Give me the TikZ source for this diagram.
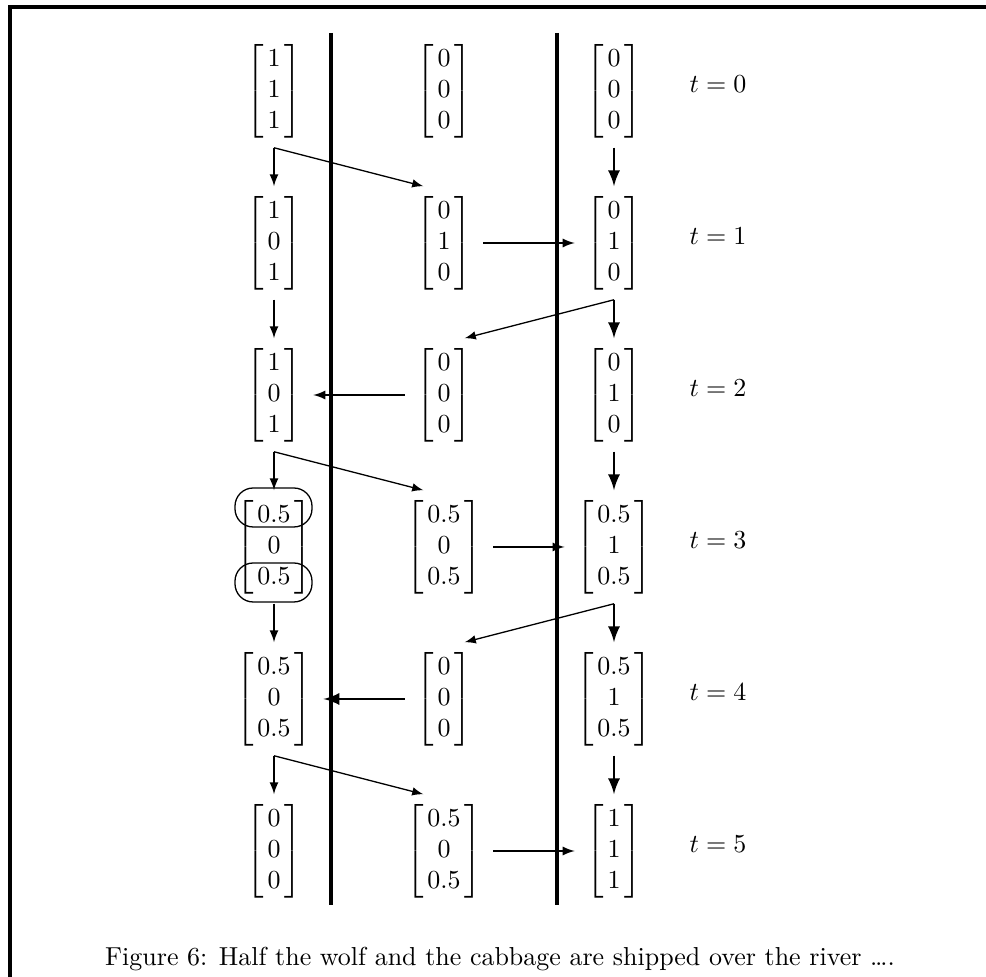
\documentclass[tikz,border=0pt]{standalone}
\usepackage{amsmath}
\usepackage{tikz}

\newcommand{\stackvec}[3]{\left[\begin{array}{@{\hspace{1.5pt}}c@{\hspace{1.5pt}}}#1\\#2\\#3\end{array}\right]}

\begin{document}
\begin{tikzpicture}[x=0.385pt,y=-0.385pt,
    mat/.style={inner sep=0pt,outer xsep=4.5pt,outer ysep=3.85pt},
    flow/.style={-latex,line width=0.6pt},
    heavy/.style={-latex,line width=1.1pt},
    ship/.style={-latex,line width=0.5pt},
    river/.style={line width=1.5pt},
    frame/.style={line width=1.2pt},
    oval/.style={rounded corners=7pt,line width=0.5pt}]
    \useasboundingbox (0,0) rectangle (986,977);
    \draw[frame] (986,7) -- (10,7) -- (10,977);
    \draw[river] (331,33) -- (331,905);
    \draw[river] (557,33) -- (557,905);
    % t = 0
    \node[mat] (L0) at (274,91) {$\stackvec{1}{1}{1}$};
    \node[mat] (M0) at (444,91) {$\stackvec{0}{0}{0}$};
    \node[mat] (R0) at (614,91) {$\stackvec{0}{0}{0}$};
    \node (t0) at (718,84) {$t = 0$};
    % t = 1
    \node[mat] (L1) at (274,243) {$\stackvec{1}{0}{1}$};
    \node[mat] (M1) at (444,243) {$\stackvec{0}{1}{0}$};
    \node[mat] (R1) at (614,243) {$\stackvec{0}{1}{0}$};
    \node (t1) at (718,236) {$t = 1$};
    % t = 2
    \node[mat] (L2) at (274,395) {$\stackvec{1}{0}{1}$};
    \node[mat] (M2) at (444,395) {$\stackvec{0}{0}{0}$};
    \node[mat] (R2) at (614,395) {$\stackvec{0}{1}{0}$};
    \node (t2) at (718,388) {$t = 2$};
    % t = 3
    \node[mat] (L3) at (274,547) {$\stackvec{0.5}{0}{0.5}$};
    \node[mat] (M3) at (444,547) {$\stackvec{0.5}{0}{0.5}$};
    \node[mat] (R3) at (614,547) {$\stackvec{0.5}{1}{0.5}$};
    \node (t3) at (718,540) {$t = 3$};
    \draw[oval] (235,488) rectangle (312,527);
    \draw[oval] (235,563) rectangle (312,602);
    % t = 4
    \node[mat] (L4) at (274,699) {$\stackvec{0.5}{0}{0.5}$};
    \node[mat] (M4) at (444,699) {$\stackvec{0}{0}{0}$};
    \node[mat] (R4) at (614,699) {$\stackvec{0.5}{1}{0.5}$};
    \node (t4) at (718,692) {$t = 4$};
    % t = 5
    \node[mat] (L5) at (274,851) {$\stackvec{0}{0}{0}$};
    \node[mat] (M5) at (444,851) {$\stackvec{0.5}{0}{0.5}$};
    \node[mat] (R5) at (614,851) {$\stackvec{1}{1}{1}$};
    \node (t5) at (718,844) {$t = 5$};
    % moves
    \draw[flow] (L0.south) -- (L1.north);
    \draw[ship] (L0.south) -- (M1.110);
    \draw[heavy] (R0.south) -- (R1.north);
    \draw[flow] (M1.east) -- (R1.west);
    \draw[flow] (L1.south) -- (L2.north);
    \draw[heavy] (R1.south) -- (R2.north);
    \draw[ship] (R1.south) -- (M2.70);
    \draw[flow] (M2.west) -- (L2.east);
    \draw[flow] (L2.south) -- (L3.north);
    \draw[ship] (L2.south) -- (M3.110);
    \draw[heavy] (R2.south) -- (R3.north);
    \draw[flow] (M3.east) -- (R3.west);
    \draw[flow] (L3.south) -- (L4.north);
    \draw[heavy] (R3.south) -- (R4.north);
    \draw[ship] (R3.south) -- (M4.70);
    \draw[heavy] (M4.west) -- (L4.east);
    \draw[flow] (L4.south) -- (L5.north);
    \draw[ship] (L4.south) -- (M5.110);
    \draw[heavy] (R4.south) -- (R5.north);
    \draw[flow] (M5.east) -- (R5.west);
    \node[anchor=base] (cap) at (500,966) {Figure 6: Half the wolf and the cabbage are shipped over the river \ldots.};
\end{tikzpicture}
\end{document}
